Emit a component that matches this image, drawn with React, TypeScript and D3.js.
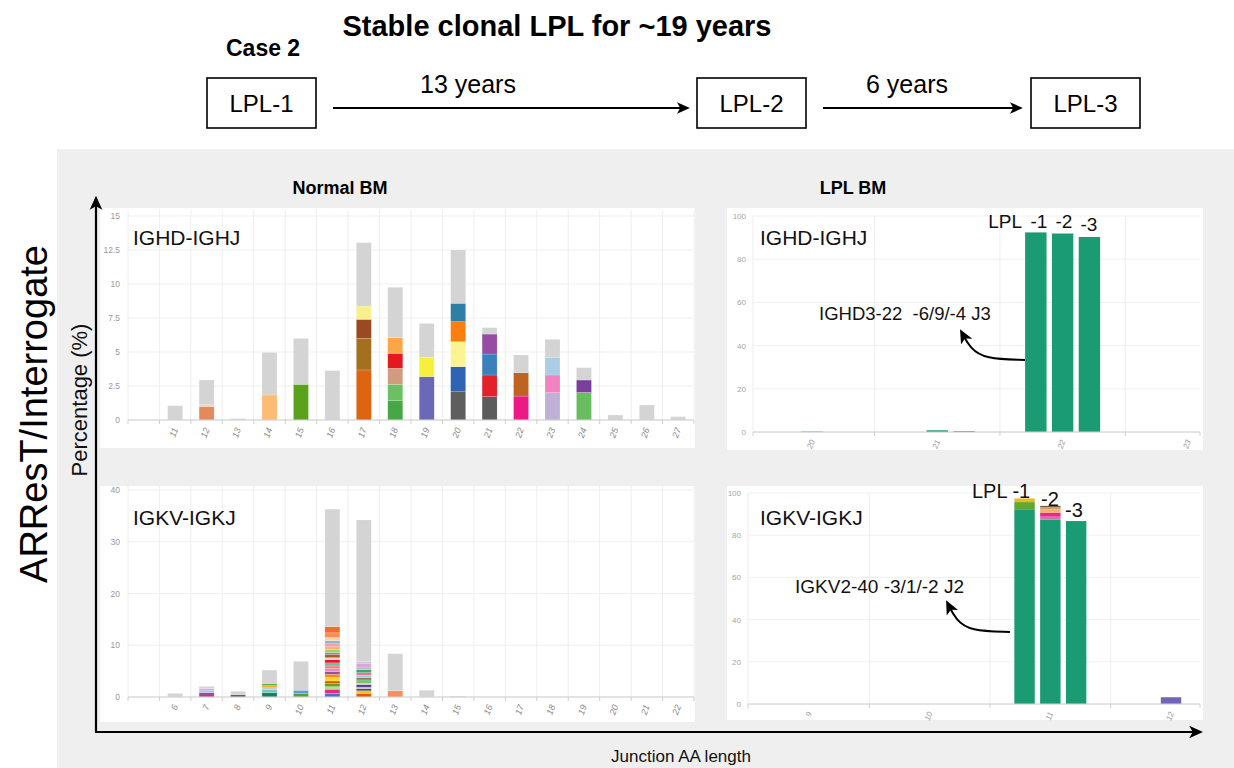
import React from "react";
import * as d3 from "d3";

const FONT = "'Liberation Sans', Arial, Helvetica, sans-serif";
const OTHER = "#d4d4d4";
const CLONE_GREEN = "#1b9b73";

// ---------- Normal BM, IGHD-IGHJ: % of reads per junction AA length, stacked by clonotype ----------
const ighNormalLengths = ["11", "12", "13", "14", "15", "16", "17", "18", "19", "20", "21", "22", "23", "24", "25", "26", "27"];
const ighNormalValues: number[][] = [
  [1.05],
  [0.98, 0.15, 1.81],
  [0.1],
  [1.84, 3.13],
  [2.62, 3.38],
  [3.63],
  [3.68, 2.32, 1.4, 0.98, 4.66],
  [1.42, 1.2, 1.18, 1.1, 1.15, 3.71],
  [3.19, 1.41, 2.5],
  [2.08, 1.84, 1.84, 1.47, 1.35, 3.92],
  [1.72, 1.59, 1.54, 1.47, 0.47],
  [1.76, 1.72, 1.3],
  [2.01, 1.3, 1.3, 1.32],
  [2.03, 0.91, 0.91],
  [0.37],
  [1.1],
  [0.25],
];
const ighNormalColors: string[][] = [
  [OTHER],
  ["#e38a5c", "#f6d0b8", OTHER],
  [OTHER],
  ["#fdbb74", OTHER],
  ["#5aa21c", OTHER],
  [OTHER],
  ["#dd6410", "#a2701f", "#9a4a22", "#f8f08c", OTHER],
  ["#45a844", "#6cc064", "#cf9c80", "#e3191f", "#fca64a", OTHER],
  ["#6b68b8", "#f7f03a", OTHER],
  ["#5e5e5e", "#2f63b3", "#faf58e", "#fb7f0f", "#2d7fa6", OTHER],
  ["#5c5c5c", "#e2212a", "#3a80bd", "#964ca2", OTHER],
  ["#ec1a84", "#bf6320", OTHER],
  ["#bfb0d6", "#f383c0", "#a8cfe6", OTHER],
  ["#68be5f", "#7a3f9d", OTHER],
  [OTHER],
  [OTHER],
  [OTHER],
];
const ighNormalTicks = [0, 2.5, 5, 7.5, 10, 12.5, 15];

// ---------- Normal BM, IGKV-IGKJ ----------
const igkNormalLengths = ["6", "7", "8", "9", "10", "11", "12", "13", "14", "15", "16", "17", "18", "19", "20", "21", "22"];
const igkNormalValues: number[][] = [
  [0.7],
  [0.85, 0.35, 0.4, 0.45],
  [0.45, 0.65],
  [0.85, 0.6, 0.35, 0.45, 0.35, 2.6],
  [0.7, 0.6, 5.6],
  [0.7, 0.8, 0.5, 0.6, 0.5, 0.7, 0.6, 0.5, 0.6, 0.5, 0.6, 0.6, 0.4, 0.6, 0.4, 0.6, 0.5, 0.6, 0.6, 0.6, 0.9, 1.2, 22.7],
  [0.7, 0.5, 0.4, 0.3, 0.5, 0.3, 0.6, 0.4, 0.5, 0.5, 0.6, 0.5, 0.6, 0.5, 27.3],
  [1.2, 7.16],
  [1.3],
  [0.2],
  [], [], [], [], [], [], [],
];
const igkNormalColors: string[][] = [
  [OTHER],
  ["#a8439a", "#9ecae1", "#c7b3da", OTHER],
  ["#56675c", OTHER],
  ["#1b7f5e", "#6cc9c4", "#c9c9c9", "#f5a623", "#4daf4a", OTHER],
  ["#4aa83a", "#5b9bd5", OTHER],
  ["#4e6fcf", "#e8288a", "#b5de8c", "#63a31e", "#d95f02", "#ffd42e", "#ff8a10", "#9a4fa3", "#e58bc4", "#f98173", "#66c2a5", "#e41a1c", "#f9c9de", "#a2611f", "#8d8d8d", "#9fd36a", "#fcb460", "#f3a1a1", "#86b6d8", "#fdd2a4", "#fb8b4f", "#f46c2c", OTHER],
  ["#e8550c", "#fdbf2d", "#4f4f4f", "#b9b9b9", "#5a3b8f", "#c7c7c7", "#72c16d", "#8c7a3c", "#9fcbe2", "#f26fa4", "#3fa85a", "#bdb8dc", "#d9a3cf", "#cfc4e4", OTHER],
  ["#fc8d59", OTHER],
  [OTHER],
  [OTHER],
  [], [], [], [], [], [], [],
];
const igkNormalTicks = [0, 10, 20, 30, 40];

// ---------- LPL BM samples ----------
const lplSamples = ["LPL-1", "LPL-2", "LPL-3"];
const lplTicks = [0, 20, 40, 60, 80, 100];

// IGHD-IGHJ: one value per junction length, per sample
const ighLplLengths = [20, 21, 22, 23];
const ighLpl1 = [0, 0, 92.4, 0];
const ighLpl2 = [0.2, 0.8, 91.9, 0];
const ighLpl3 = [0, 0.4, 90.3, 0];

// IGKV-IGKJ: stacked clonotypes per junction length, per sample
const igkLplLengths = [9, 10, 11, 12];
const igkLpl1Values: number[][] = [[], [], [92.3, 3.4, 1.7], []];
const igkLpl2Values: number[][] = [[], [], [87.4, 1.4, 1.9, 1.5, 1.2, 0.5], [3.2]];
const igkLpl3Values: number[][] = [[], [], [86.7], []];
const igkLpl1Colors: string[][] = [[], [], [CLONE_GREEN, "#62a82e", "#e9b824"], []];
const igkLpl2Colors: string[][] = [[], [], [CLONE_GREEN, "#c77aa6", "#e8288a", "#fdae6b", "#c9a27a", "#6b4f2a"], ["#6f66b8"]];
const igkLpl3Colors: string[][] = [[], [], [CLONE_GREEN], []];

type Seg = { x: number; y0: number; y1: number; color: string; key: string };

function stackSegments(values: number[], colors: string[], key: string): { y0: number; y1: number; color: string; key: string }[] {
  const tops = Array.from(d3.cumsum(values));
  return values.map((v, i) => ({ y0: tops[i] - v, y1: tops[i], color: colors[i], key: `${key}-${i}` }));
}

function Arrowhead({ id, size }: { id: string; size: number }) {
  return (
    <marker id={id} viewBox="0 0 10 10" refX={7} refY={5} markerWidth={size} markerHeight={size} orient="auto-start-reverse" markerUnits="userSpaceOnUse">
      <path d="M0,0.5 L10,5 L0,9.5 L2.5,5 Z" fill="#000" />
    </marker>
  );
}

type NormalProps = {
  lengths: string[];
  values: number[][];
  colors: string[][];
  ticks: number[];
  yMax: number;
  yBase: number;
  yTop: number;
  label: string;
  labelY: number;
};

function NormalPanel({ lengths, values, colors, ticks, yMax, yBase, yTop, label, labelY }: NormalProps) {
  const x = d3.scaleBand<string>().domain(["", ...lengths]).range([128, 694]).padding(0);
  const y = d3.scaleLinear().domain([0, yMax]).range([yBase, yTop]);
  const barW = 15;
  const boundaries = [...x.domain().map((d) => x(d) as number), 694];
  const segs: Seg[] = [];
  lengths.forEach((len, i) => {
    const cx = (x(len) as number) + x.bandwidth() / 2;
    stackSegments(values[i], colors[i], len).forEach((s) => segs.push({ ...s, x: cx }));
  });
  return (
    <g>
      {ticks.map((t) => (
        <line key={`h${t}`} x1={128} x2={694} y1={y(t)} y2={y(t)} stroke="#efefef" strokeWidth={1} />
      ))}
      {boundaries.map((b, i) => (
        <line key={`v${i}`} x1={b} x2={b} y1={yTop - 6} y2={yBase} stroke="#eeeeee" strokeWidth={1} />
      ))}
      {segs.map((s) => (
        <rect key={s.key} x={s.x - barW / 2} width={barW} y={y(s.y1)} height={Math.max(0.4, y(s.y0) - y(s.y1))} fill={s.color} stroke="#ffffff" strokeOpacity={0.35} strokeWidth={0.5} />
      ))}
      <line x1={128} x2={694} y1={yBase} y2={yBase} stroke="#cfcfcf" strokeWidth={1} />
      {boundaries.map((b, i) => (
        <line key={`t${i}`} x1={b} x2={b} y1={yBase} y2={yBase + 4} stroke="#cfcfcf" strokeWidth={1} />
      ))}
      {ticks.map((t) => (
        <text key={`yl${t}`} x={120} y={y(t) + 3} textAnchor="end" fontSize={8.5} fill="#9a9a9a" fontFamily={FONT}>
          {String(t)}
        </text>
      ))}
      {lengths.map((len) => {
        const cx = (x(len) as number) + x.bandwidth() / 2;
        return (
          <text key={`xl${len}`} transform={`translate(${cx + 3},${yBase + 9}) rotate(-70)`} textAnchor="end" fontSize={9} fontStyle="italic" fill="#8a8a8a" fontFamily={FONT}>
            {len}
          </text>
        );
      })}
      <text x={133} y={labelY} fontSize={21} fill="#111" fontFamily={FONT}>
        {label}
      </text>
    </g>
  );
}

type LplProps = {
  lengths: number[];
  segValues: number[][][];
  segColors: string[][][];
  domain: [number, number];
  xRange: [number, number];
  yBase: number;
  yTop: number;
  barW: number;
};

function LplPanel({ lengths, segValues, segColors, domain, xRange, yBase, yTop, barW }: LplProps) {
  const x = d3.scaleLinear().domain(domain).range(xRange);
  const y = d3.scaleLinear().domain([0, 100]).range([yBase, yTop]);
  const step = barW + 5;
  const inner = d3.scaleBand<string>().domain(lplSamples).range([-1.5 * step, 1.5 * step]).paddingInner(5 / step).paddingOuter(0);
  const segs: Seg[] = [];
  lplSamples.forEach((s, si) => {
    lengths.forEach((len, li) => {
      const bx = x(len) + (inner(s) as number) + inner.bandwidth() / 2;
      stackSegments(segValues[si][li], segColors[si][li], `${s}-${len}`).forEach((seg) => segs.push({ ...seg, x: bx }));
    });
  });
  const bw = inner.bandwidth();
  const mids = lengths.slice(0, -1).map((l) => x(l + 0.5));
  return (
    <g>
      {lplTicks.map((t) => (
        <line key={`h${t}`} x1={xRange[0]} x2={xRange[1]} y1={y(t)} y2={y(t)} stroke="#f0f0f0" strokeWidth={1} />
      ))}
      {[xRange[0], ...mids].map((m, i) => (
        <line key={`v${i}`} x1={m} x2={m} y1={yTop} y2={yBase} stroke="#ededed" strokeWidth={1} />
      ))}
      {segs.map((s) => (
        <rect key={s.key} x={s.x - bw / 2} width={bw} y={y(s.y1)} height={Math.max(0.5, y(s.y0) - y(s.y1))} fill={s.color} />
      ))}
      <line x1={xRange[0]} x2={xRange[1]} y1={yBase} y2={yBase} stroke="#d0d0d0" strokeWidth={1} />
      {[xRange[0], ...mids, xRange[1]].map((m, i) => (
        <line key={`t${i}`} x1={m} x2={m} y1={yBase} y2={yBase + 4} stroke="#d0d0d0" strokeWidth={1} />
      ))}
      {lplTicks.map((t) => (
        <text key={`yl${t}`} x={xRange[0] - 7} y={y(t) + 3} textAnchor="end" fontSize={8} fill="#a5a5a5" fontFamily={FONT}>
          {String(t)}
        </text>
      ))}
      {lengths.map((len) => (
        <text key={`xl${len}`} transform={`translate(${x(len) + 3},${yBase + 9}) rotate(-70)`} textAnchor="end" fontSize={8} fontStyle="italic" fill="#9a9a9a" fontFamily={FONT}>
          {String(len)}
        </text>
      ))}
    </g>
  );
}

export default function App() {
  const curve = d3.line<[number, number]>().curve(d3.curveBasis);
  const ighLplSegValues = [ighLpl1, ighLpl2, ighLpl3].map((arr) => arr.map((v) => (v > 0 ? [v] : [])));
  const ighLplSegColors = ighLplSegValues.map((arr) => arr.map((s) => s.map(() => CLONE_GREEN)));

  return (
    <svg width={1234} height={768} viewBox="0 0 1234 768" style={{ position: "absolute", left: 0, top: 0, display: "block", background: "#fff" }} fontFamily={FONT}>
      <defs>
        <Arrowhead id="ahHeader" size={13} />
        <Arrowhead id="ahAxis" size={14} />
        <Arrowhead id="ahCurve" size={14} />
      </defs>

      {/* timeline header */}
      <text x={557} y={36} textAnchor="middle" fontSize={29} fontWeight="bold" fill="#000">
        Stable clonal LPL for ~19 years
      </text>
      <text x={226} y={56} fontSize={23} fontWeight="bold" fill="#000">
        Case 2
      </text>
      {[
        { x: 207, label: "LPL-1" },
        { x: 697, label: "LPL-2" },
        { x: 1031, label: "LPL-3" },
      ].map((b) => (
        <g key={b.label}>
          <rect x={b.x} y={78} width={109} height={50} fill="none" stroke="#000" strokeWidth={1.6} />
          <text x={b.x + 54.5} y={112} textAnchor="middle" fontSize={24} fill="#000">
            {b.label}
          </text>
        </g>
      ))}
      <line x1={333} x2={686} y1={108} y2={108} stroke="#000" strokeWidth={2} markerEnd="url(#ahHeader)" />
      <text x={468} y={93} textAnchor="middle" fontSize={25} fill="#000">13 years</text>
      <line x1={823} x2={1019} y1={108} y2={108} stroke="#000" strokeWidth={2} markerEnd="url(#ahHeader)" />
      <text x={907} y={93} textAnchor="middle" fontSize={25} fill="#000">6 years</text>

      {/* grey backdrop */}
      <rect x={57} y={149} width={1177} height={619} fill="#efefef" />
      <text x={340} y={194} textAnchor="middle" fontSize={18} fontWeight="bold" fill="#000">Normal BM</text>
      <text x={853} y={194} textAnchor="middle" fontSize={18} fontWeight="bold" fill="#000">LPL BM</text>

      {/* panel cards */}
      <rect x={100} y={208} width={595} height={240} fill="#fff" />
      <rect x={100} y={486} width={595} height={236} fill="#fff" />
      <rect x={727} y={208} width={476} height={242} fill="#fff" />
      <rect x={727} y={486} width={476} height={234} fill="#fff" />

      <NormalPanel lengths={ighNormalLengths} values={ighNormalValues} colors={ighNormalColors} ticks={ighNormalTicks} yMax={15} yBase={420} yTop={216} label="IGHD-IGHJ" labelY={245} />
      <NormalPanel lengths={igkNormalLengths} values={igkNormalValues} colors={igkNormalColors} ticks={igkNormalTicks} yMax={40} yBase={697} yTop={490} label="IGKV-IGKJ" labelY={525} />

      <LplPanel lengths={ighLplLengths} segValues={ighLplSegValues} segColors={ighLplSegColors} domain={[19.53, 23.096]} xRange={[753, 1200]} yBase={432} yTop={216} barW={20} />
      <LplPanel lengths={igkLplLengths} segValues={[igkLpl1Values, igkLpl2Values, igkLpl3Values]} segColors={[igkLpl1Colors, igkLpl2Colors, igkLpl3Colors]} domain={[8.495, 12.24]} xRange={[748, 1200]} yBase={704} yTop={493} barW={19} />

      {/* LPL BM annotations */}
      <text x={760} y={245} fontSize={21} fill="#111">IGHD-IGHJ</text>
      <text x={1022} y={228} textAnchor="end" fontSize={19} fill="#111">LPL</text>
      <text x={1039} y={228} textAnchor="middle" fontSize={19} fill="#111">-1</text>
      <text x={1064} y={228} textAnchor="middle" fontSize={19} fill="#111">-2</text>
      <text x={1089} y={231} textAnchor="middle" fontSize={19} fill="#111">-3</text>
      <text x={819} y={320} fontSize={18.5} fill="#111" style={{ whiteSpace: "pre" }}>{"IGHD3-22  -6/9/-4 J3"}</text>
      <path d={curve([[1025, 360], [985, 359], [970, 348], [962, 333]]) || ""} fill="none" stroke="#000" strokeWidth={2} markerEnd="url(#ahCurve)" />

      <text x={760} y={525} fontSize={21} fill="#111">IGKV-IGKJ</text>
      <text x={972} y={498} fontSize={20} fill="#111" style={{ whiteSpace: "pre" }}>{"LPL -1"}</text>
      <text x={1050} y={506} textAnchor="middle" fontSize={20} fill="#111">-2</text>
      <text x={1074} y={517} textAnchor="middle" fontSize={20} fill="#111">-3</text>
      <text x={795} y={593} fontSize={19} fill="#111">IGKV2-40 -3/1/-2 J2</text>
      <path d={curve([[1010, 632], [970, 631], [956, 620], [948, 604]]) || ""} fill="none" stroke="#000" strokeWidth={2} markerEnd="url(#ahCurve)" />

      {/* shared axes */}
      <line x1={96} y1={732} x2={96} y2={200} stroke="#000" strokeWidth={2.2} markerEnd="url(#ahAxis)" />
      <line x1={95} y1={732} x2={1199} y2={732} stroke="#000" strokeWidth={2.2} markerEnd="url(#ahAxis)" />
      <text x={681} y={762} textAnchor="middle" fontSize={17} fill="#111">Junction AA length</text>
      <text transform="translate(87,400) rotate(-90)" textAnchor="middle" fontSize={22} fill="#111">Percentage (%)</text>
      <text transform="translate(47,414) rotate(-90)" textAnchor="middle" fontSize={38} fill="#000">ARResT/Interrogate</text>
    </svg>
  );
}
